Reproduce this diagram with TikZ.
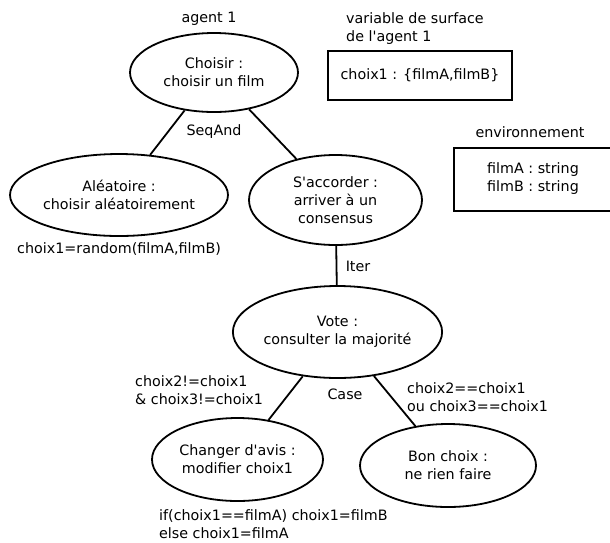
\documentclass[tikz,border=0pt]{standalone}
\usepackage{fontspec}
\newfontfamily\dv{DejaVu Sans}
\usetikzlibrary{shapes.geometric}
\begin{document}
\begin{tikzpicture}[x=1pt,y=-1pt,
  every node/.style={font=\dv\fontsize{14.3}{18}\selectfont, inner sep=0pt},
  ell/.style={ellipse, draw, line width=1.8pt, align=center},
  box/.style={rectangle, draw, line width=1.8pt},
  lab/.style={align=left},
  conn/.style={line width=1.8pt}]
\useasboundingbox (0,0) rectangle (610,542);
\clip (0,0) rectangle (610,542);

% titles
\node (agent) at (209,19) {agent 1};
\node[lab, anchor=west] (vartitle) at (346,28.5) {variable de surface\\de l'agent 1};
\node (envtitle) at (530,132) {environnement};

% boxes
\node[box, minimum width=184pt, minimum height=49pt] (varbox) at (420,75.5) {choix1 : \{filmA,filmB\}};
\node[box, minimum width=166pt, minimum height=63pt] (envbox) at (537,179.5) {};
\node[align=center] (envtext) at (533,179) {filmA : string\\filmB : string};

% ellipses
\node[ell, minimum width=168pt, minimum height=79pt] (choisir) at (214,72.5) {Choisir :\\choisir un film};
\node[ell, minimum width=218pt, minimum height=82pt] (alea) at (119,195) {Aléatoire :\\choisir aléatoirement};
\node[ell, minimum width=173pt, minimum height=90pt] (accord) at (335.5,200) {S'accorder :\\arriver à un\\consensus};
\node[ell, minimum width=205pt, minimum height=92pt] (vote) at (337.5,332) {Vote :\\consulter la majorité};
\node[ell, minimum width=171pt, minimum height=83pt] (changer) at (237.5,459.5) {Changer d'avis :\\modifier choix1};
\node[ell, minimum width=176pt, minimum height=83pt] (bon) at (448,465.5) {Bon choix :\\ne rien faire};

% connectors
\draw[conn] (choisir) -- (alea);
\draw[conn] (choisir) -- (accord);
\draw[conn] (accord) -- (vote);
\draw[conn] (vote) -- (changer);
\draw[conn] (vote) -- (bon);

% labels
\node (seqand) at (214,132) {SeqAnd};
\node (iter) at (358,266) {Iter};
\node (case) at (345,394) {Case};
\node[lab, anchor=west] (random) at (17,249) {choix1=random(filmA,filmB)};
\node[lab, anchor=west] (neq) at (135,390.5) {choix2!=choix1\\\& choix3!=choix1};
\node[lab, anchor=west] (eq) at (407,397) {choix2==choix1\\ou choix3==choix1};
\node[lab, anchor=west] (ifelse) at (159,524.5) {if(choix1==filmA) choix1=filmB\\else choix1=filmA};
\end{tikzpicture}
\end{document}
